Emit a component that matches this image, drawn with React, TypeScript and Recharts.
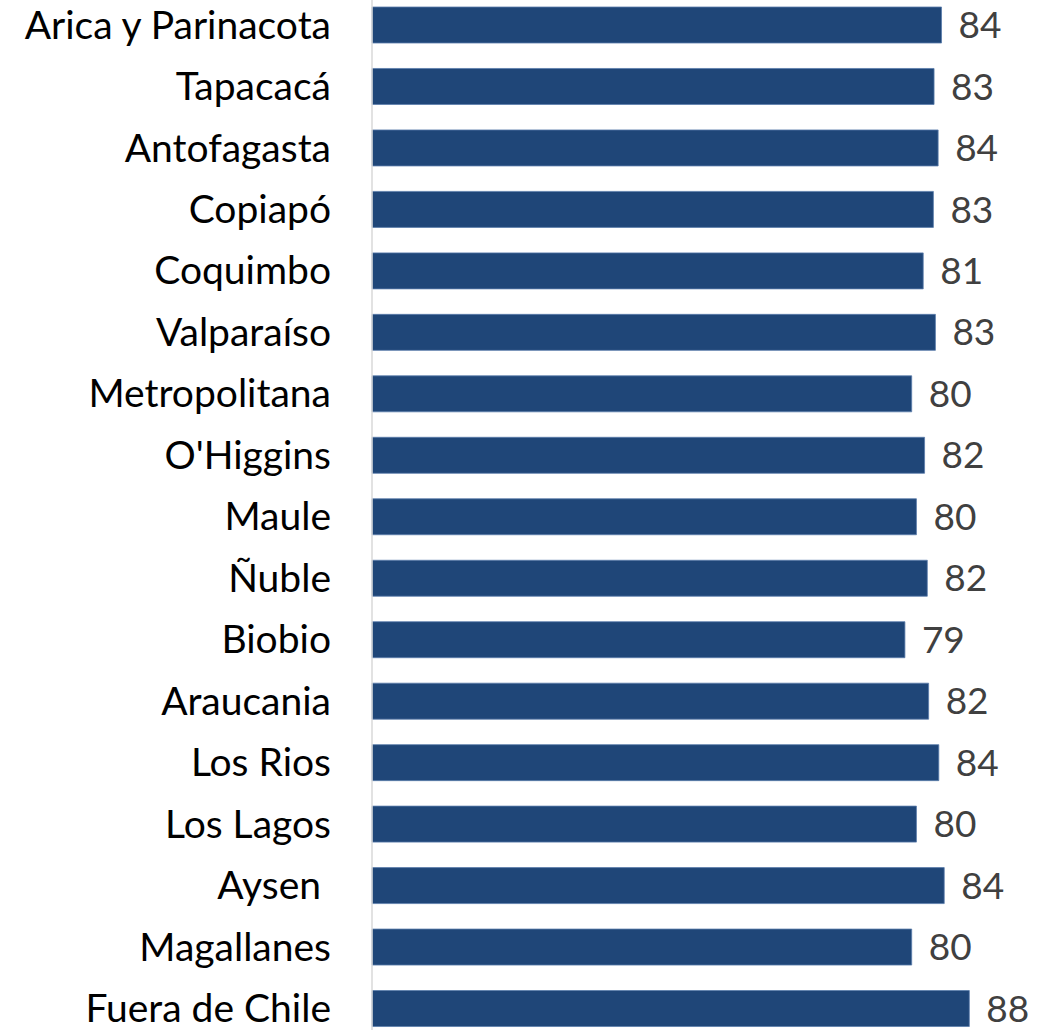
import { Bar, BarChart, LabelList, XAxis, YAxis } from "recharts";

const regions = [
  "Arica y Parinacota",
  "Tapacacá",
  "Antofagasta",
  "Copiapó",
  "Coquimbo",
  "Valparaíso",
  "Metropolitana",
  "O'Higgins",
  "Maule",
  "Ñuble",
  "Biobio",
  "Araucania",
  "Los Rios",
  "Los Lagos",
  "Aysen\u00a0",
  "Magallanes",
  "Fuera de Chile",
];

const scores = [
  84.0, 82.9, 83.5, 82.8, 81.3, 83.1, 79.6, 81.5, 80.3, 81.9, 78.6, 82.1, 83.6,
  80.3, 84.4, 79.6, 88.1,
];

const data = regions.map((region, i) => ({ region, score: scores[i] }));

const FONT = "Lato, 'Open Sans', sans-serif";

export default function App() {
  return (
    <div
      style={{
        position: "absolute",
        left: 0,
        top: 0,
        width: 1056,
        height: 1030,
        overflow: "hidden",
        background: "#fff",
      }}
    >
      <div style={{ position: "absolute", left: 0, top: -6 }}>
        <BarChart
          width={1056}
          height={1045}
          data={data}
          layout="vertical"
          barSize={36}
          margin={{ top: 0, right: 6, left: 0, bottom: 0 }}
        >
          <XAxis type="number" domain={[0, 100]} hide />
          <YAxis
            type="category"
            dataKey="region"
            width={372}
            tickLine={false}
            tickSize={0}
            tickMargin={41}
            axisLine={{ stroke: "#d9d9d9", strokeWidth: 1.5 }}
            tick={{ fill: "#000", fontSize: 39, fontFamily: FONT }}
            interval={0}
          />
          <Bar
            dataKey="score"
            fill="#1f4678"
            stroke="#5a7cab"
            strokeWidth={0.8}
            isAnimationActive={false}
          >
            <LabelList
              dataKey="score"
              position="right"
              offset={17}
              formatter={(v: number) => Math.round(v)}
              style={{ fill: "#404040", fontSize: 37, fontFamily: FONT }}
            />
          </Bar>
        </BarChart>
      </div>
    </div>
  );
}
